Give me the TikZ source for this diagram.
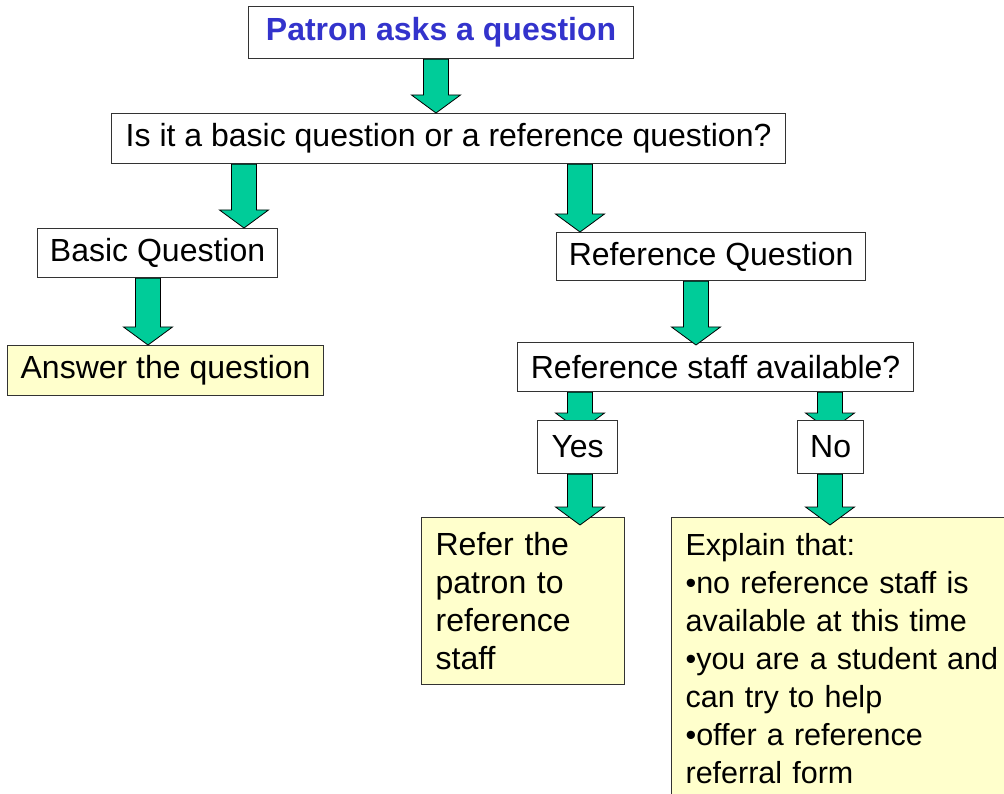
\documentclass[tikz,border=0pt]{standalone}
\usepackage{fontspec}
\setmainfont{Liberation Sans}
\usepackage{xcolor}
\definecolor{patronblue}{RGB}{51, 51, 204}
\definecolor{arrowgreen}{RGB}{0, 204, 153}
\definecolor{noteyellow}{RGB}{255, 255, 204}
\usetikzlibrary{calc, backgrounds}

\tikzset{
  stepbox/.style={draw=black!80, line width=1.2pt, fill=white, anchor=north west,
    inner sep=0pt, font=\fontsize{32}{38}\selectfont},
  notebox/.style={stepbox, fill=noteyellow},
  flowarrow/.style={fill=arrowgreen, draw=black, line width=0.8pt, line join=miter},
}

% block arrow at x=#1 from the bottom of #2 to the top of #3, tip #4 past it
\newcommand{\greenarrow}[4]{%
  \draw[flowarrow] let \p1=(#2.south), \p2=(#3.north) in
    (#1pt-12.5pt,\y1) -- (#1pt+12.5pt,\y1) -- (#1pt+12.5pt,\y2-#4pt+18pt)
    -- (#1pt+24.5pt,\y2-#4pt+18pt) -- (#1pt,\y2-#4pt)
    -- (#1pt-24.5pt,\y2-#4pt+18pt) -- (#1pt-12.5pt,\y2-#4pt+18pt) -- cycle;}

\begin{document}
\begin{tikzpicture}[x=1pt, y=-1pt]
    \useasboundingbox (0,0) rectangle (1004,794);
    \clip (0,0) rectangle (1004,794);

    \node[stepbox, minimum width=385pt, minimum height=52pt, text=patronblue,
      font=\fontsize{32}{38}\selectfont\bfseries] (patron) at (248,6) {Patron asks a question};
    \node[stepbox, minimum width=674pt, minimum height=50pt] (question) at (111,113)
      {Is it a basic question or a reference question?};
    \node[stepbox, minimum width=240pt, minimum height=49pt] (basic) at (37,228) {Basic Question};
    \node[stepbox, minimum width=309pt, minimum height=48pt] (refq) at (556,232) {Reference Question};
    \node[notebox, minimum width=316pt, minimum height=50pt] (answer) at (7,345) {Answer the question};
    \node[stepbox, minimum width=396pt, minimum height=49pt] (staff) at (517,342) {Reference staff available?};
    \node[stepbox, minimum width=80pt, minimum height=53pt] (yes) at (537,420) {Yes};
    \node[stepbox, minimum width=66pt, minimum height=53pt] (no) at (797,420) {No};

    \node[notebox, inner xsep=14pt, text width=175pt, align=left, minimum height=167pt]
      (refer) at (421,517) {Refer the\\ patron to\\ reference\\ staff};
    \node[notebox, inner xsep=14pt, text width=330pt, align=left, minimum height=281pt,
      font=\fontsize{30.5}{38}\selectfont]
      (explain) at (671,517) {Explain that:\\ •no reference staff is\\ available at this time\\
      •you are a student and\\ can try to help\\ •offer a reference\\ referral form};

    % arrows
    \greenarrow{436}{patron}{question}{0}
    \greenarrow{244}{question}{basic}{0}
    \greenarrow{580}{question}{refq}{0}
    \greenarrow{148}{basic}{answer}{0}
    \greenarrow{696}{refq}{staff}{3}
    \begin{pgfonlayer}{background}
      \fill[white] (0,0) rectangle (1004,794);
      \greenarrow{580}{staff}{yes}{11}
      \greenarrow{830}{staff}{no}{11}
    \end{pgfonlayer}
    \greenarrow{580}{yes}{refer}{8}
    \greenarrow{830}{no}{explain}{8}
\end{tikzpicture}
\end{document}
